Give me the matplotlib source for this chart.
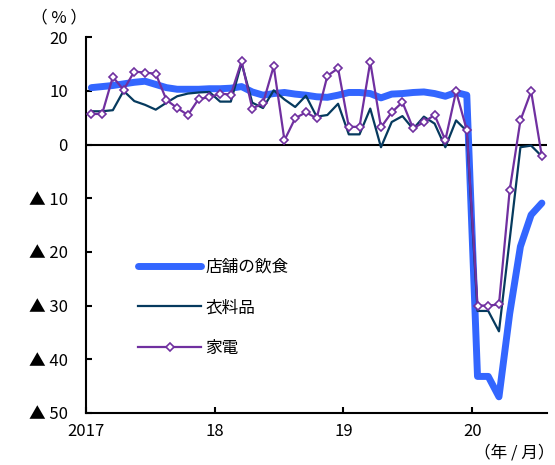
import numpy as np
import matplotlib.pyplot as plt

plt.rcParams['font.family'] = ['Noto Sans CJK JP', 'DejaVu Sans']

# monthly series, 2017/01 - 2020/07 (前年同月比, %)
restaurant = [10.6, 10.8, 11.0, 11.3, 11.6, 11.8, 11.2, 10.6, 10.3, 10.3, 10.3, 10.4,
              10.4, 10.5, 10.8, 9.8, 9.2, 9.5, 9.7, 9.4, 9.2, 8.9, 8.8, 9.2,
              9.7, 9.7, 9.5, 8.7, 9.4, 9.5, 9.7, 9.8, 9.5, 9.0, 9.7, 9.2,
              -43.2, -43.2, -47.0, -31.5, -19.0, -13.1, -10.9]
clothing = [6.2, 6.2, 6.4, 10.0, 8.1, 7.4, 6.5, 7.8, 9.0, 9.5, 9.7, 9.8,
            8.0, 8.0, 15.2, 7.8, 6.8, 10.1, 8.4, 7.0, 9.1, 5.2, 5.5, 7.6,
            1.9, 1.9, 6.7, -0.5, 4.2, 5.3, 2.9, 5.2, 3.9, -0.5, 4.5, 2.5,
            -31.0, -31.0, -34.8, -17.7, -0.5, -0.2, -2.2]
appliances = [5.7, 5.7, 12.6, 10.2, 13.6, 13.4, 13.2, 8.3, 6.8, 5.5, 8.5, 8.8,
              9.5, 9.3, 15.5, 6.7, 7.7, 14.6, 0.8, 4.9, 6.0, 4.9, 12.8, 14.2,
              3.3, 3.3, 15.4, 3.2, 6.0, 7.9, 3.0, 4.2, 5.5, 0.8, 9.9, 2.7,
              -30.0, -30.0, -29.8, -8.5, 4.5, 9.9, -2.2]
year_labels = ['2017', '18', '19', '20']
y_ticks = [20, 10, 0, -10, -20, -30, -40, -50]
y_labels = ['20', '10', '0', '▲ 10', '▲ 20', '▲ 30', '▲ 40', '▲ 50']

x = np.arange(len(restaurant)) + 0.5

fig = plt.figure(figsize=(5.55, 4.65), dpi=100)
ax = fig.add_axes([0.155, 0.112, 0.831, 0.808])

ax.plot(x, restaurant, color='#3366ff', lw=5, solid_capstyle='round',
        solid_joinstyle='round', label='店舗の飲食', zorder=2)
ax.plot(x, clothing, color='#063a5e', lw=1.6, label='衣料品', zorder=3)
ax.plot(x, appliances, color='#7030a0', lw=1.6, marker='D', markersize=4.5,
        markerfacecolor='white', markeredgecolor='#7030a0', markeredgewidth=1.2,
        label='家電', zorder=4)

ax.axhline(0, color='black', lw=1.5, zorder=1)

ax.set_xlim(0, len(restaurant))
ax.set_ylim(-50, 20)
ax.set_xticks([0, 12, 24, 36])
ax.set_xticklabels(year_labels)
ax.set_yticks(y_ticks)
ax.set_yticklabels(y_labels)
ax.tick_params(axis='both', direction='in', length=4, width=1.5, labelsize=12)
ax.tick_params(axis='y', pad=13)
ax.tick_params(axis='x', pad=7)

for side in ['top', 'right']:
    ax.spines[side].set_visible(False)
for side in ['left', 'bottom']:
    ax.spines[side].set_linewidth(1.5)

ax.text(0.002, 1.03, '（ % ）', transform=ax.transAxes, ha='right', va='bottom', fontsize=12)
ax.text(1.015, -0.085, '（年 / 月）', transform=ax.transAxes, ha='right', va='top', fontsize=12)

ax.legend(loc='upper left', bbox_to_anchor=(0.08, 0.45), frameon=False,
          fontsize=12, handlelength=3.8, handletextpad=0.25, labelspacing=1.4)

fig.savefig('out.png', dpi=100)
